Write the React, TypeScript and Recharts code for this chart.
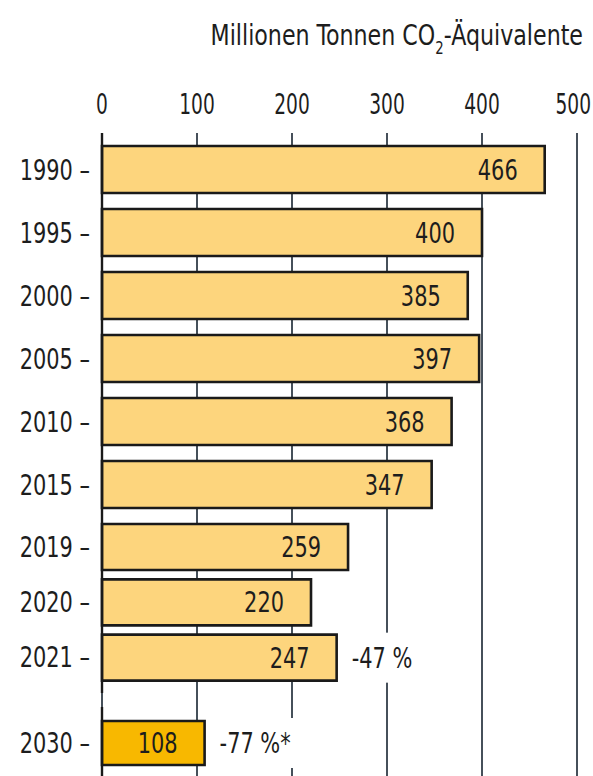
import React from 'react';
import { BarChart, Bar, XAxis, YAxis, CartesianGrid, LabelList, Label } from 'recharts';

const years = ['1990', '1995', '2000', '2005', '2010', '2015', '2019', '2020', '2021', '2030'];
const emissions = [466, 400, 385, 397, 368, 347, 259, 220, 247, 108];
const changes = ['', '', '', '', '', '', '', '', '-47 %', '-77 %*'];
const xTicks = [0, 100, 200, 300, 400, 500];
const titleMain = 'Millionen Tonnen CO';
const titleSub = '2';
const titleEnd = '-Äquivalente';

const rows = years.map((year, i) => ({ year, value: emissions[i], change: changes[i] }));
const groupA = rows.slice(0, 6);
const groupB = rows.slice(6, 9);
const groupC = rows.slice(9);

const FONT = "'DejaVu Sans Condensed', 'DejaVu Sans', sans-serif";
const TXT = '#1d1d1d';
const GRID = '#46505a';
const LIGHT = '#FDD57D';
const DARK = '#F8B800';
const FS = 28;
const SX = 0.83;

const W = 593;
const MARGIN = { top: 0, right: 16, left: 0, bottom: 0 };

const SText = ({ x, y, anchor = 'start', dy, sx = SX, children }: any) => (
  <text
    transform={`translate(${x} ${y}) scale(${sx} 1)`}
    x={0}
    y={0}
    dy={dy}
    textAnchor={anchor}
    fontFamily={FONT}
    fontSize={FS}
    fill={TXT}
  >
    {children}
  </text>
);

const YTick = (props: any) => {
  const { x, y, payload } = props;
  return (
    <SText x={x} y={y} dy="0.36em" anchor="end">
      {payload.value} –
    </SText>
  );
};

const XTick = (props: any) => {
  const { x, y, payload } = props;
  const sx = 0.74;
  const half = (String(payload.value).length * FS * 0.572 * sx) / 2;
  const cx = Math.min(x, W - half - 2);
  return (
    <SText x={cx} y={y} anchor="middle" sx={sx}>
      {payload.value}
    </SText>
  );
};

const Title = (props: any) => {
  const vb = props.viewBox || { x: 102, y: 0, width: 475, height: 133 };
  return (
    <SText x={vb.x + vb.width + 6} y={45} anchor="end" sx={0.88}>
      {titleMain}
      <tspan fontSize={FS * 0.6} dy={9}>{titleSub}</tspan>
      <tspan dy={-9}>{titleEnd}</tspan>
    </SText>
  );
};

const ValueLabel = (props: any) => {
  const { x, y, width, height, value } = props;
  return (
    <SText x={x + width - 27} y={y + height / 2} dy="0.36em" anchor="end">
      {value}
    </SText>
  );
};

const ChangeLabel = (props: any) => {
  const { x, y, width, height, value } = props;
  if (!value) return null;
  const tx = x + width + 15;
  const cy = y + height / 2;
  const w = String(value).length * 12 + 6;
  return (
    <g>
      <rect x={tx - 3} y={cy - 25} width={w} height={50} fill="#fff" />
      <SText x={tx} y={cy} dy="0.36em">
        {value}
      </SText>
    </g>
  );
};

const yAxisCommon = {
  type: 'category' as const,
  dataKey: 'year',
  width: 102,
  tickLine: false,
  tickSize: 0,
  tickMargin: 12,
  tick: <YTick />,
  interval: 0 as const,
};

export default function App() {
  return (
    <div style={{ position: 'absolute', left: 0, top: 0, width: W, height: 776, overflow: 'hidden', background: '#fff' }}>
      <BarChart width={W} height={516} data={groupA} layout="vertical" margin={MARGIN} barCategoryGap={0}>
        <CartesianGrid horizontal={false} stroke={GRID} strokeWidth={2} />
        <XAxis
          type="number"
          orientation="top"
          domain={[0, 500]}
          ticks={xTicks}
          height={133}
          axisLine={false}
          tickLine={false}
          tickSize={0}
          tickMargin={19}
          tick={<XTick />}
          interval={0}
        >
          <Label content={<Title />} />
        </XAxis>
        <YAxis {...yAxisCommon} padding={{ top: 5, bottom: 0 }} axisLine={{ stroke: '#1a1a1a', strokeWidth: 2.4 }} />
        <Bar dataKey="value" fill={LIGHT} stroke="#1a1a1a" strokeWidth={2.6} barSize={47} isAnimationActive={false}>
          <LabelList dataKey="value" content={<ValueLabel />} />
          <LabelList dataKey="change" content={<ChangeLabel />} />
        </Bar>
      </BarChart>
      <BarChart width={W} height={177} data={groupB} layout="vertical" margin={MARGIN} barCategoryGap={0}>
        <CartesianGrid horizontal={false} stroke={GRID} strokeWidth={2} />
        <XAxis type="number" domain={[0, 500]} ticks={xTicks} hide height={0} />
        <YAxis {...yAxisCommon} padding={{ top: 3, bottom: 8 }} axisLine={{ stroke: '#1a1a1a', strokeWidth: 2.4 }} />
        <Bar dataKey="value" fill={LIGHT} stroke="#1a1a1a" strokeWidth={2.6} barSize={46} isAnimationActive={false}>
          <LabelList dataKey="value" content={<ValueLabel />} />
          <LabelList dataKey="change" content={<ChangeLabel />} />
        </Bar>
      </BarChart>
      <BarChart width={W} height={83} data={groupC} layout="vertical" margin={MARGIN} barCategoryGap={0}>
        <CartesianGrid horizontal={false} stroke={GRID} strokeWidth={2} />
        <XAxis type="number" domain={[0, 500]} ticks={xTicks} hide height={0} />
        <YAxis
          {...yAxisCommon}
          padding={{ top: 27, bottom: 10 }}
          axisLine={{ stroke: '#1a1a1a', strokeWidth: 2.4, strokeDasharray: '0 14 1000' }}
        />
        <Bar dataKey="value" fill={DARK} stroke="#1a1a1a" strokeWidth={2.6} barSize={44} isAnimationActive={false}>
          <LabelList dataKey="value" content={<ValueLabel />} />
          <LabelList dataKey="change" content={<ChangeLabel />} />
        </Bar>
      </BarChart>
    </div>
  );
}
